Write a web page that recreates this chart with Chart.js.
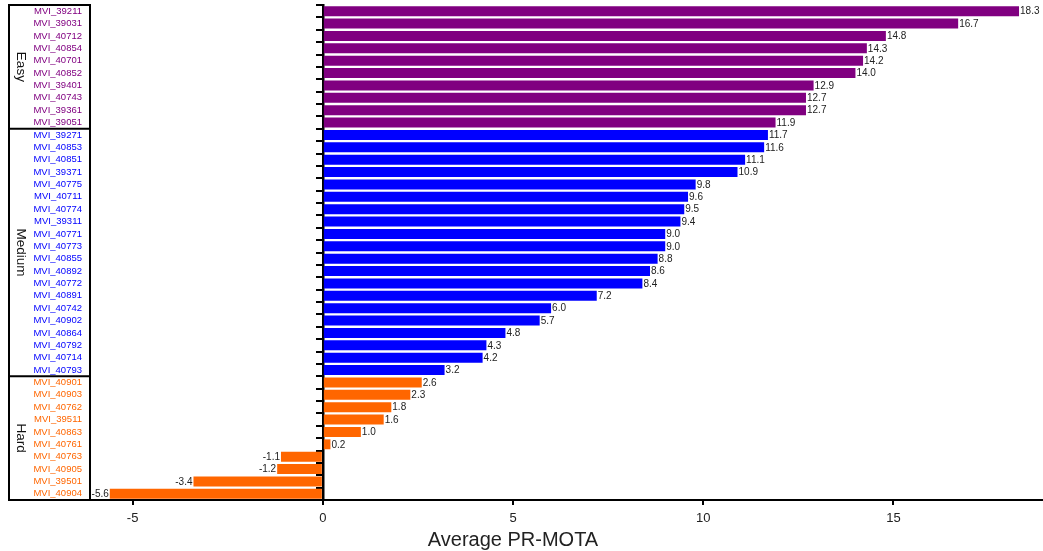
<!DOCTYPE html>
<html>
<head>
<meta charset="utf-8">
<script src="https://cdn.jsdelivr.net/npm/chart.js@4/dist/chart.umd.min.js"></script>
<style>
  html, body { margin: 0; padding: 0; background: #fff; }
  canvas { display: block; }
</style>
</head>
<body>
<canvas id="prChart" width="1043" height="551"></canvas>
<script>
// ***************************************************************************************************
// Dados do gráfico

const sequences = [
  'MVI_39211', 'MVI_39031', 'MVI_40712', 'MVI_40854', 'MVI_40701',
  'MVI_40852', 'MVI_39401', 'MVI_40743', 'MVI_39361', 'MVI_39051',
  'MVI_39271', 'MVI_40853', 'MVI_40851', 'MVI_39371', 'MVI_40775',
  'MVI_40711', 'MVI_40774', 'MVI_39311', 'MVI_40771', 'MVI_40773',
  'MVI_40855', 'MVI_40892', 'MVI_40772', 'MVI_40891', 'MVI_40742',
  'MVI_40902', 'MVI_40864', 'MVI_40792', 'MVI_40714', 'MVI_40793',
  'MVI_40901', 'MVI_40903', 'MVI_40762', 'MVI_39511', 'MVI_40863',
  'MVI_40761', 'MVI_40763', 'MVI_40905', 'MVI_39501', 'MVI_40904'
];

const prMota = [
  18.3, 16.7, 14.8, 14.3, 14.2, 14.0, 12.9, 12.7, 12.7, 11.9,
  11.7, 11.6, 11.1, 10.9, 9.8, 9.6, 9.5, 9.4, 9.0, 9.0,
  8.8, 8.6, 8.4, 7.2, 6.0, 5.7, 4.8, 4.3, 4.2, 3.2,
  2.6, 2.3, 1.8, 1.6, 1.0, 0.2, -1.1, -1.2, -3.4, -5.6
];

const groupNames = ['Easy', 'Medium', 'Hard'];
const groupSizes = [10, 20, 10];
const xTicks = [-5, 0, 5, 10, 15];
const axisTitle = 'Average PR-MOTA';

// ***************************************************************************************************
// Estilos

const FONT = '"Liberation Sans", Arial, sans-serif';
const groupColors = { Easy: '#800080', Medium: '#0000ff', Hard: '#ff6600' };

// grupo de cada sequência (a partir dos tamanhos)
var difficulty = [];
groupNames.forEach((name, g) => {
  for (let i = 0; i < groupSizes[g]; i++) difficulty.push(name);
});

// rótulos de valor na ponta das barras
const valueLabels = {
  id: 'valueLabels',
  afterDatasetsDraw(chart) {
    const ctx = chart.ctx;
    const meta = chart.getDatasetMeta(0);
    ctx.save();
    ctx.font = '10px ' + FONT;
    ctx.fillStyle = '#222';
    ctx.textBaseline = 'middle';
    meta.data.forEach((bar, i) => {
      const v = prMota[i];
      if (v >= 0) {
        ctx.textAlign = 'left';
        ctx.fillText(v.toFixed(1), bar.x + 1, bar.y + 0.5);
      } else {
        ctx.textAlign = 'right';
        ctx.fillText(v.toFixed(1), bar.x - 1, bar.y + 0.5);
      }
    });
    ctx.restore();
  }
};

// caixa com os grupos Easy / Medium / Hard à esquerda + título do eixo
const groupBox = {
  id: 'groupBox',
  afterDraw(chart) {
    const ctx = chart.ctx;
    const area = chart.chartArea;
    const yScale = chart.scales.y;
    const boxLeft = 9;
    const boxRight = area.left;
    const n = sequences.length;

    ctx.save();
    ctx.strokeStyle = '#000';
    ctx.lineWidth = 2;
    ctx.strokeRect(boxLeft, area.top, boxRight - boxLeft, area.bottom - area.top);

    let start = 0;
    groupNames.forEach((name, g) => {
      const end = start + groupSizes[g];
      const yTop = start === 0 ? area.top : (yScale.getPixelForValue(start - 1) + yScale.getPixelForValue(start)) / 2;
      const yBot = end === n ? area.bottom : (yScale.getPixelForValue(end - 1) + yScale.getPixelForValue(end)) / 2;
      if (end < n) {
        ctx.beginPath();
        ctx.moveTo(boxLeft, yBot);
        ctx.lineTo(boxRight, yBot);
        ctx.stroke();
      }
      ctx.save();
      ctx.translate(21, (yTop + yBot) / 2);
      ctx.rotate(Math.PI / 2);
      ctx.font = '13.5px ' + FONT;
      ctx.fillStyle = '#111';
      ctx.textAlign = 'center';
      ctx.textBaseline = 'middle';
      ctx.fillText(name, 0, 0);
      ctx.restore();
      start = end;
    });

    ctx.font = '20px ' + FONT;
    ctx.fillStyle = '#222';
    ctx.textAlign = 'center';
    ctx.textBaseline = 'alphabetic';
    ctx.fillText(axisTitle, 513, 546);
    ctx.restore();
  }
};

const ctx = document.getElementById('prChart').getContext('2d');

globalThis.prChart = new Chart(ctx, {
  type: 'bar',
  data: {
    labels: sequences,
    datasets: [{
      data: prMota,
      backgroundColor: difficulty.map(d => groupColors[d]),
      borderWidth: 0,
      categoryPercentage: 1.0,
      barPercentage: 0.8
    }]
  },
  options: {
    indexAxis: 'y',
    responsive: false,
    animation: false,
    layout: { padding: { top: 5, right: 0, left: 0, bottom: 0 } },
    plugins: {
      legend: { display: false },
      tooltip: { enabled: false },
      title: { display: false }
    },
    scales: {
      x: {
        type: 'linear',
        min: -6.12,
        max: 18.93,
        afterBuildTicks: (scale) => { scale.ticks = xTicks.map(v => ({ value: v })); },
        afterFit: (scale) => { scale.height = 51; scale.paddingLeft = 0; scale.paddingRight = 0; },
        grid: { display: true, drawOnChartArea: false, drawTicks: true, tickLength: 5, color: '#000', lineWidth: 2 },
        border: { display: true, color: '#000', width: 2 },
        ticks: { font: { size: 13, family: FONT }, color: '#222', padding: 6, maxRotation: 0 }
      },
      y: {
        type: 'category',
        offset: true,
        afterFit: (scale) => { scale.width = 90; scale.paddingTop = 0; scale.paddingBottom = 0; },
        grid: { display: false, drawTicks: false },
        border: { display: false },
        ticks: {
          autoSkip: false,
          padding: 8,
          font: { size: 9.5, family: FONT },
          color: (c) => groupColors[difficulty[c.index]]
        }
      },
      y2: {
        type: 'category',
        axis: 'y',
        position: { x: 0 },
        offset: true,
        z: 1,
        grid: { display: true, offset: true, drawOnChartArea: false, drawTicks: true, tickLength: 6, color: '#000', lineWidth: 2 },
        border: { display: true, color: '#000', width: 2.5 },
        ticks: { display: false }
      }
    }
  },
  plugins: [valueLabels, groupBox]
});
</script>
</body>
</html>
